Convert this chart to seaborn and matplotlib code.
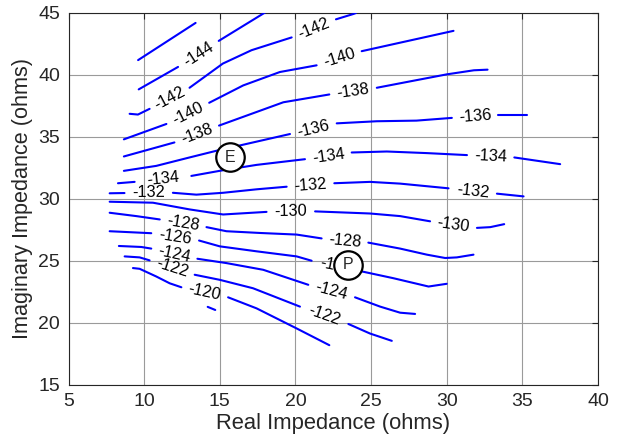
import numpy as np
import pandas as pd
import matplotlib.pyplot as plt
import seaborn as sns

# contour pieces, (real, imag) in ohms
# every level is a list of pieces, its label sits in each gap between two pieces
c144 = [[(9.64, 38.84), (12.24, 40.65)],
        [(14.93, 42.75), (17.83, 44.92), (18.0, 45.05)]]
c142 = [[(9.04, 36.87), (9.59, 36.81), (10.36, 37.27)],
        [(13.0, 38.97), (15.2, 40.92), (17.1, 42.0), (19.75, 43.03)],
        [(22.68, 44.49), (23.83, 44.92), (24.0, 45.0)]]
c140 = [[(8.66, 34.81), (11.47, 36.05)],
        [(14.3, 37.76), (16.55, 39.16), (18.97, 40.24), (21.4, 40.78)],
        [(24.38, 41.92), (30.45, 43.56)]]
c138 = [[(8.66, 33.43), (12.0, 34.56)],
        [(14.95, 35.92), (17.1, 36.87), (19.2, 37.8), (22.24, 38.43)],
        [(25.38, 38.97), (27.6, 39.49), (30.0, 40.05), (31.8, 40.38), (32.7, 40.43)]]
c136 = [[(8.66, 32.27), (10.8, 32.67), (13.0, 33.35), (14.78, 33.89), (16.55, 34.38), (19.64, 35.24)],
        [(22.73, 36.1), (25.38, 36.27), (28.0, 36.32), (30.34, 36.54)],
        [(33.4, 36.81), (35.3, 36.81)]]
c134 = [[(8.27, 31.27), (9.37, 31.38)],
        [(13.12, 31.86), (15.22, 32.32), (17.43, 32.75), (20.63, 33.21)],
        [(23.72, 33.75), (26.04, 33.83), (28.7, 33.7), (31.34, 33.54)],
        [(34.47, 33.35), (37.5, 32.81)]]
c132 = [[(7.72, 30.46), (8.7, 30.48)],
        [(11.9, 30.5), (13.45, 30.35), (15.22, 30.5), (17.43, 30.78), (19.42, 30.99)],
        [(22.57, 31.27), (24.93, 31.38), (26.92, 31.24), (30.12, 30.86)],
        [(33.32, 30.43), (35.08, 30.21)]]
c130 = [[(7.72, 29.78), (10.58, 29.7), (13.0, 29.16), (15.22, 28.75), (18.09, 28.96)],
        [(21.3, 29.0), (24.93, 28.83), (26.92, 28.62), (28.9, 28.2)],
        [(32.0, 27.67), (32.88, 27.73), (33.8, 27.97)]]
c128 = [[(7.72, 28.89), (9.48, 28.62), (11.03, 28.35)],
        [(14.12, 27.73), (15.44, 27.4), (17.65, 27.26), (20.08, 27.13), (21.73, 26.82)],
        [(24.82, 26.48), (26.92, 26.0), (28.69, 25.51), (29.9, 25.24), (30.67, 25.29), (31.77, 25.51)]]
c126 = [[(7.72, 27.4), (10.47, 27.24)],
        [(13.63, 26.65), (15.0, 26.18), (17.43, 25.78), (20.08, 25.37), (21.07, 25.02)],
        [(24.38, 24.16), (26.48, 23.61), (28.8, 22.94), (30.0, 23.16)]]
c124 = [[(8.33, 26.21), (9.81, 26.13), (10.47, 26.0)],
        [(13.52, 25.18), (15.44, 24.83), (17.87, 24.29), (20.85, 23.08)],
        [(23.94, 22.07), (25.6, 21.32), (26.92, 20.83), (27.91, 20.73)]]
c122 = [[(8.71, 25.37), (9.7, 25.29), (10.36, 25.05)],
        [(13.34, 23.89), (15.0, 23.48), (17.2, 22.8), (20.3, 21.32)],
        [(23.5, 19.92), (24.93, 19.15), (26.37, 18.56)]]
c120 = [[(9.26, 24.43), (9.7, 24.37), (10.8, 23.75), (11.69, 23.2), (12.46, 22.88)],
        [(15.55, 22.07), (17.43, 21.18), (20.08, 19.56), (22.24, 18.21)]]

# pieces with no label
loose = [[(9.6, 41.2), (11.5, 42.7), (13.4, 44.2)],
         [(14.2, 21.3), (14.7, 21.05)]]

levels = [-144, -142, -140, -138, -136, -134, -132, -130, -128, -126, -124, -122, -120]
contours = [c144, c142, c140, c138, c136, c134, c132, c130, c128, c126, c124, c122, c120]

# marked points
point_names = ['E', 'P']
point_x = [15.66, 23.5]
point_y = [33.35, 24.7]

sns.set_style('white')
plt.rcParams['font.family'] = ['Liberation Sans', 'DejaVu Sans']

rows = []
pid = 0
for pieces in contours + [loose]:
    for piece in pieces:
        for x, y in piece:
            rows.append((x, y, pid))
        pid += 1
df = pd.DataFrame(rows, columns=['real', 'imag', 'piece'])

fig = plt.figure(figsize=(6.24, 4.42), dpi=100)
ax = fig.add_axes([0.1098, 0.129, 0.8485, 0.8416])

sns.lineplot(data=df, x='real', y='imag', units='piece', estimator=None, sort=False,
             color='#0000ff', lw=1.5, legend=False, ax=ax, zorder=3)

ax.set_xlim(5, 40)
ax.set_ylim(15, 45)
ax.set_xticks(np.arange(5, 41, 5))
ax.set_yticks(np.arange(15, 46, 5))
ax.grid(True, color='#9a9a9a', lw=0.8)
ax.set_axisbelow(True)
ax.tick_params(direction='in', top=True, right=True, length=4, width=0.8,
               labelsize=14, colors='#262626', pad=6)
for s in ax.spines.values():
    s.set_color('#262626')
    s.set_linewidth(0.8)
ax.set_xlabel('Real Impedance (ohms)', fontsize=15.8, color='#262626', labelpad=2)
ax.set_ylabel('Imaginary Impedance (ohms)', fontsize=15.6, color='#262626', labelpad=4)

# inline labels in the gaps, turned along the line
for lev, pieces in zip(levels, contours):
    for a, b in zip(pieces[:-1], pieces[1:]):
        p0 = np.array(a[-1])
        p1 = np.array(b[0])
        d0 = ax.transData.transform(p0)
        d1 = ax.transData.transform(p1)
        ang = np.degrees(np.arctan2(d1[1] - d0[1], d1[0] - d0[0]))
        mid = (p0 + p1) / 2
        ax.text(mid[0], mid[1], str(lev), rotation=ang, rotation_mode='anchor',
                ha='center', va='center', fontsize=11.8, color='black', zorder=4)

sns.scatterplot(x=point_x, y=point_y, s=420, color='white', edgecolor='black',
                linewidth=1.6, ax=ax, zorder=5, legend=False)
for name, x, y in zip(point_names, point_x, point_y):
    ax.text(x, y, name, ha='center', va='center', fontsize=11.5, zorder=6)

plt.savefig('out.png', dpi=100)
